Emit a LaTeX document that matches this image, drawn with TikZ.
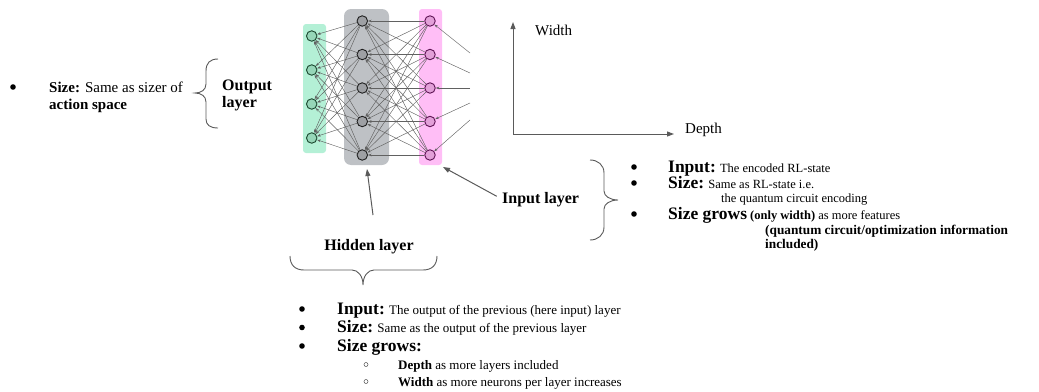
\documentclass[tikz,border=0pt]{standalone}
\usepackage{fontspec}
\setmainfont{Liberation Serif}
\usetikzlibrary{arrows.meta}

\definecolor{mintbg}{RGB}{180,240,214}
\definecolor{mintnode}{RGB}{150,214,184}
\definecolor{mintline}{RGB}{25,70,45}
\definecolor{greybg}{RGB}{190,193,197}
\definecolor{greynode}{RGB}{158,160,164}
\definecolor{greyline}{RGB}{30,30,30}
\definecolor{pinkbg}{RGB}{255,190,246}
\definecolor{pinknode}{RGB}{226,160,216}
\definecolor{pinkline}{RGB}{95,20,85}
\definecolor{inkgrey}{RGB}{90,90,90}

\newcommand\bigbf{\fontsize{17.5}{19}\selectfont\bfseries}

\tikzset{
  layerbox/.style={rounded corners=3pt, inner sep=0pt},
  neuron/.style={circle, inner sep=0pt, minimum size=10.5pt, line width=0.9pt},
  onode/.style={neuron, fill=mintnode, draw=mintline},
  hnode/.style={neuron, fill=greynode, draw=greyline},
  inode/.style={neuron, fill=pinknode, draw=pinkline},
  edge/.style={draw=black!62, line width=0.45pt, -{Stealth[length=3.6pt,width=2.6pt]}},
  pointer/.style={draw=inkgrey, line width=1pt, -{Triangle[length=7pt,width=5pt]}},
  bracepath/.style={draw=inkgrey, line width=0.9pt},
  lbl/.style={font=\fontsize{16}{17}\selectfont\bfseries, inner sep=0pt},
  axislbl/.style={font=\fontsize{15}{17}\selectfont, inner sep=0pt},
  item/.style={font=\fontsize{12.5}{14}\selectfont, inner sep=0pt, anchor=base west},
  itemb/.style={item, font=\fontsize{13}{14}\selectfont},
  bullet/.style={circle, fill=black, inner sep=0pt, minimum size=5.6pt},
  subbullet/.style={circle, draw=black!70, line width=0.5pt, inner sep=0pt, minimum size=4pt},
}

\begin{document}
\begin{tikzpicture}[x=1pt,y=-1pt]
\useasboundingbox (0,0) rectangle (1039,391);

% layer backgrounds
\node[layerbox, fill=mintbg, minimum width=23pt, minimum height=129pt] (outbox) at (314.5,88.5) {};
\node[layerbox, fill=greybg, rounded corners=7pt, minimum width=45pt, minimum height=156pt] (hidbox) at (366.5,87) {};
\node[layerbox, fill=pinkbg, minimum width=23pt, minimum height=156pt] (inbox) at (430.5,87) {};

% neurons
\foreach \y [count=\k] in {36,70,104,138}
  \node[onode] (o\k) at (311.7,\y) {};
\foreach \y [count=\k] in {21,54.5,88,121.5,155}
  \node[hnode] (h\k) at (362.3,\y) {};
\foreach \y [count=\k] in {21,54.5,88,121.5,155}
  \node[inode] (p\k) at (430,\y) {};

% incoming connections entering from the right
\foreach \y [count=\k] in {53,73,88,103,120}
  \coordinate (s\k) at (470,\y);
\foreach \k in {1,...,5}
  \draw[edge] (s\k) -- (p\k);

% input layer -> hidden layer
\foreach \i in {1,...,5}
  \foreach \j in {1,...,5}
    \draw[edge] (p\i) -- (h\j);

% hidden layer -> output layer
\foreach \i in {1,...,5}
  \foreach \j in {1,...,4}
    \draw[edge] (h\i) -- (o\j);

% width / depth axes
\coordinate (ax0) at (513,134);
\coordinate (axw) at (513,22);
\coordinate (axd) at (674,134);
\draw[draw=inkgrey, line width=1pt, {Triangle[length=7pt,width=5pt]}-{Triangle[length=7pt,width=5pt]}] (axw) -- (ax0) -- (axd);
\node[axislbl, anchor=west] (wlbl) at (535,30) {Width};
\node[axislbl, anchor=west] (dlbl) at (685,130) {Depth};

% output layer description
\node[bullet] (lb1) at (13,87) {};
\node[item, font=\fontsize{15}{17}\selectfont] (l1) at (49,92) {\textbf{Size:} Same as sizer of};
\node[item, font=\fontsize{15}{17}\selectfont] (l2) at (49,109) {\textbf{action space}};
\draw[bracepath] (218,59) .. controls (210,59) and (206,63) .. (206,71) -- (206,84)
  .. controls (206,90) and (201,93) .. (195,93)
  .. controls (201,93) and (206,96) .. (206,102) -- (206,119)
  .. controls (206,125) and (210,128) .. (218,128);
\node[lbl, anchor=base west] (outl1) at (222,90) {Output};
\node[lbl, anchor=base west] (outl2) at (222,107) {layer};

% input layer label and pointer
\node[lbl, anchor=base west] (inlbl) at (502,203) {Input layer};
\coordinate (intip) at (443,167);
\draw[pointer, shorten <=6pt] (inlbl.west) -- (intip);

% hidden layer label and pointer
\node[lbl, anchor=base] (hidlbl) at (369,250) {Hidden layer};
\coordinate (hidtail) at (373,215);
\coordinate (hidtip) at (367,169);
\draw[pointer] (hidtail) -- (hidtip);

% brace under the hidden layer label
\draw[bracepath] (290,256) .. controls (290,265) and (295,270) .. (304,270) -- (352,270)
  .. controls (358,270) and (363,276) .. (363,285)
  .. controls (363,276) and (368,270) .. (374,270) -- (423,270)
  .. controls (432,270) and (437,265) .. (437,256);

% brace beside the input layer description
\draw[bracepath] (590,160) .. controls (598,160) and (604,165) .. (604,173) -- (604,191)
  .. controls (604,196) and (610,200) .. (618,200)
  .. controls (610,200) and (604,204) .. (604,209) -- (604,227)
  .. controls (604,235) and (598,240) .. (590,240);

% input layer description
\node[bullet] (rb1) at (634,167) {};
\node[bullet] (rb2) at (634,183) {};
\node[bullet] (rb3) at (634,214) {};
\node[item] (r1) at (668,172) {{\bigbf Input:} The encoded RL-state};
\node[item] (r2) at (668,188) {{\bigbf Size:} Same as RL-state i.e.};
\node[item] (r3) at (721,202.5) {the quantum circuit encoding};
\node[item] (r4) at (668,219) {{\bigbf Size grows} \textbf{(only width)} as more features};
\node[item, font=\fontsize{13.3}{15}\selectfont] (r5) at (765,234) {\textbf{(quantum circuit/optimization information}};
\node[item, font=\fontsize{13.3}{15}\selectfont] (r6) at (765,248.5) {\textbf{included)}};

% hidden layer description
\node[bullet] (bb1) at (302,309) {};
\node[bullet] (bb2) at (302,327.5) {};
\node[bullet] (bb3) at (302,346) {};
\node[subbullet] (bs1) at (366,364.5) {};
\node[subbullet] (bs2) at (366,381.5) {};
\node[itemb] (b1) at (337,314) {{\bigbf Input:} The output of the previous (here input) layer};
\node[itemb] (b2) at (337,332.5) {{\bigbf Size:} Same as the output of the previous layer};
\node[itemb] (b3) at (337,351) {{\bigbf Size grows:}};
\node[itemb] (b4) at (398,369) {\textbf{Depth} as more layers included};
\node[itemb] (b5) at (398,386) {\textbf{Width} as more neurons per layer increases};
\end{tikzpicture}
\end{document}
